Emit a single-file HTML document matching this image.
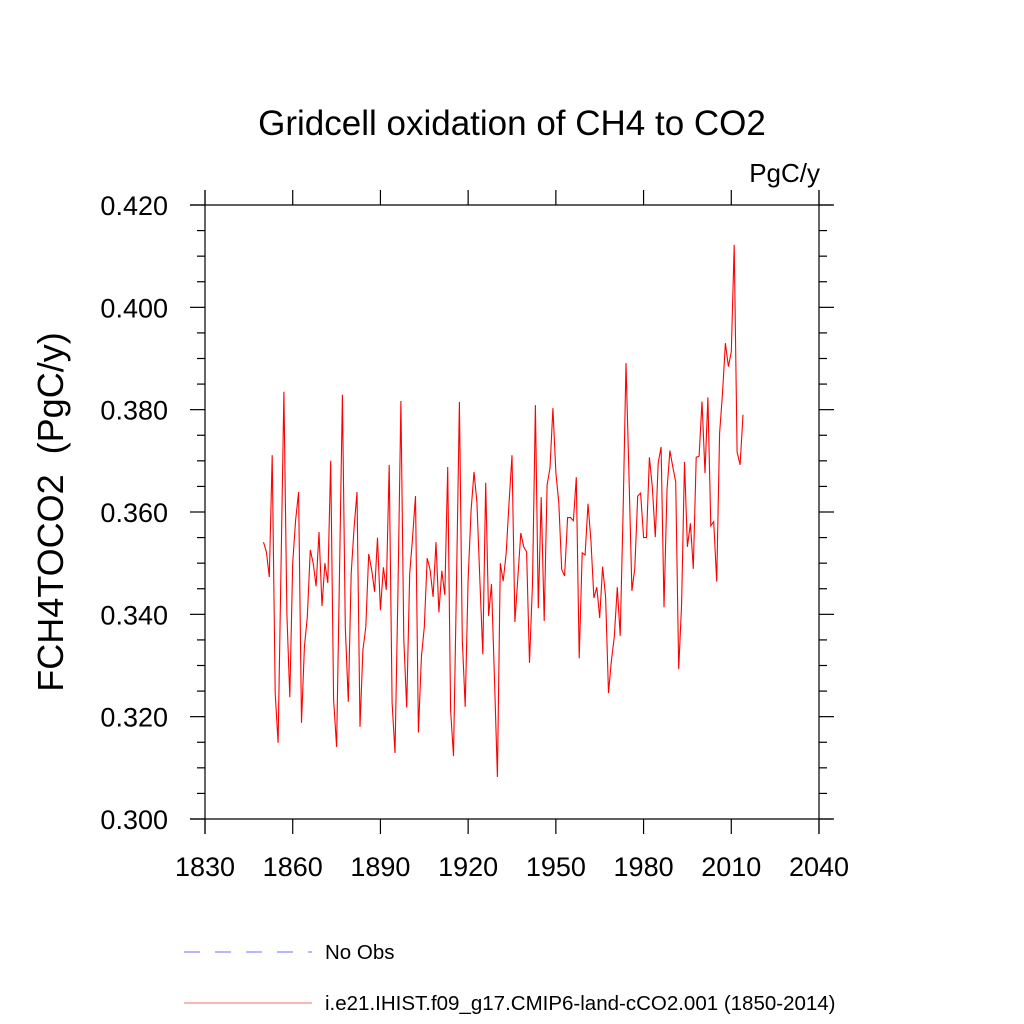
<!DOCTYPE html>
<html><head><meta charset="utf-8"><style>
html,body{margin:0;padding:0;background:#fff;}
svg{display:block;font-family:"Liberation Sans",sans-serif;}
</style></head><body>
<svg id="chart" width="1024" height="1024" viewBox="0 0 1024 1024">
<text x="512" y="135" font-size="35" text-anchor="middle">Gridcell oxidation of CH4 to CO2</text>
<text x="820" y="182" font-size="26" text-anchor="end">PgC/y</text>
<text transform="translate(63,512) rotate(-90)" font-size="36" text-anchor="middle" xml:space="preserve" style="white-space:pre">FCH4TOCO2  (PgC/y)</text>
<g id="axes"></g>
<g id="series"></g>
<g>
<line x1="184" y1="952" x2="312" y2="952" stroke="#6f6fff" stroke-width="1" stroke-dasharray="16,15"/>
<text x="325" y="959" font-size="20.5">No Obs</text>
<line x1="184" y1="1003" x2="312" y2="1003" stroke="#f07070" stroke-width="1"/>
<text x="325" y="1010" font-size="20.5">i.e21.IHIST.f09_g17.CMIP6-land-cCO2.001 (1850-2014)</text>
</g>
</svg>
<script>
const startYear = 1850;
const values = [
0.3541,0.3522,0.3473,0.3711,0.3246,0.3149,0.349,0.3835,0.340,0.3238,
0.350,0.3584,0.3639,0.3188,0.3336,0.3395,0.3526,0.350,0.3455,0.3561,
0.3416,0.350,0.3461,0.370,0.3233,0.3141,0.348,0.3829,0.3375,0.3229,
0.348,0.357,0.3639,0.318,0.333,0.3375,0.3518,0.3487,0.3444,0.355,
0.3408,0.3492,0.3448,0.3692,0.3227,0.3129,0.345,0.3817,0.335,0.3218,
0.348,0.3551,0.3631,0.3169,0.3317,0.3375,0.351,0.3487,0.3434,0.3541,
0.3404,0.3485,0.3438,0.3688,0.3213,0.3123,0.345,0.3815,0.335,0.3219,
0.3467,0.3604,0.3678,0.362,0.347,0.3322,0.3657,0.3397,0.3459,0.3272,
0.3082,0.350,0.3465,0.352,0.362,0.3711,0.3385,0.347,0.3559,0.3532,
0.3522,0.3305,0.346,0.3809,0.3412,0.3629,0.3387,0.3653,0.3686,0.3803,
0.3676,0.3618,0.3488,0.3475,0.3589,0.3589,0.3583,0.3668,0.3314,0.352,
0.3516,0.3616,0.3545,0.3432,0.3453,0.3393,0.3493,0.3434,0.3246,0.331,
0.3356,0.3453,0.3358,0.360,0.3891,0.367,0.3446,0.349,0.3631,0.3637,
0.355,0.355,0.3707,0.3649,0.3551,0.3696,0.3727,0.3414,0.3643,0.372,
0.3688,0.3659,0.3293,0.342,0.3698,0.3532,0.3578,0.3489,0.3707,0.3709,
0.3816,0.3676,0.3824,0.3573,0.3581,0.3464,0.3754,0.3832,0.393,0.3884,
0.3913,0.4122,0.3717,0.3692,0.379];
const xTicks = [1830,1860,1890,1920,1950,1980,2010,2040];
const yTicks = [0.300,0.320,0.340,0.360,0.380,0.400,0.420];
const yTickLabels = ["0.300","0.320","0.340","0.360","0.380","0.400","0.420"];

const L=205,R=819,T=205,B=819, X0=1830,X1=2040,Y0=0.3,Y1=0.42;
const xs=v=>L+(v-X0)/(X1-X0)*(R-L);
const ys=v=>B-(v-Y0)/(Y1-Y0)*(B-T);
const NS="http://www.w3.org/2000/svg";
const axes=document.getElementById('axes');
function mk(tag,attrs,parent){const e=document.createElementNS(NS,tag);for(const k in attrs)e.setAttribute(k,attrs[k]);parent.appendChild(e);return e;}
const st={stroke:"#000","stroke-width":1.2};
let e;
e=mk('line',Object.assign({x1:L-15,y1:T,x2:R+14,y2:T},st),axes);


e=mk('line',Object.assign({x1:L-15,y1:B,x2:R+14,y2:B},st),axes);


e=mk('line',Object.assign({x1:L,y1:T-15,x2:L,y2:B+15},st),axes);


e=mk('line',Object.assign({x1:R,y1:T-15,x2:R,y2:B+15},st),axes);


xTicks.forEach(t=>{
  const x=xs(t);
  mk('line',Object.assign({x1:x,y1:B,x2:x,y2:B+15},st),axes);
  mk('line',Object.assign({x1:x,y1:T,x2:x,y2:T-15},st),axes);
  const tx=mk('text',{x:x,y:876,"font-size":27,"text-anchor":"middle"},axes);
  tx.textContent=t;
  
  
});
for(let v=0.300;v<=0.42001;v+=0.005){
  const y=ys(v);
  const major=Math.abs(Math.round(v*1000)%20)<0.5;
  const len=major?15:8;
  mk('line',Object.assign({x1:L-len,y1:y,x2:L,y2:y},st),axes);
  mk('line',Object.assign({x1:R,y1:y,x2:R+len,y2:y},st),axes);
}
yTicks.forEach((t,i)=>{
  const tx=mk('text',{x:168,y:ys(t)+10,"font-size":27,"text-anchor":"end"},axes);
  tx.textContent=yTickLabels[i];
  
  
});
const pts=values.map((v,i)=>xs(startYear+i).toFixed(1)+","+ys(v).toFixed(1)).join(" ");
const pl=mk('polyline',{points:pts,fill:"none",stroke:"#ff0000","stroke-width":1.1},document.getElementById('series'));


</script>
</body></html>
